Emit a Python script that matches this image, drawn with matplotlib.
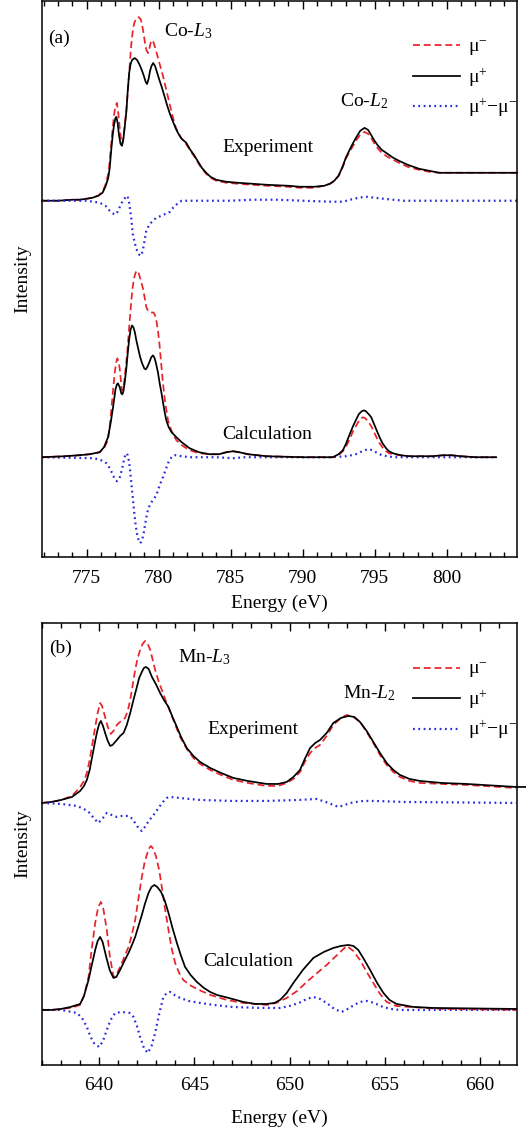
import matplotlib
matplotlib.use("Agg")
import matplotlib.pyplot as plt
from matplotlib.ticker import MultipleLocator

plt.rcParams['font.family'] = ['Liberation Serif', 'DejaVu Serif']
plt.rcParams['mathtext.fontset'] = 'custom'
plt.rcParams['mathtext.rm'] = 'Liberation Serif'
plt.rcParams['mathtext.it'] = 'Liberation Serif:italic'
plt.rcParams['font.size'] = 14

# ---------------- (a) Co L2,3 ----------------
co_exp_minus_E = [771.9, 773.0, 774.0, 774.5, 775.0, 775.4, 775.8, 776.1, 776.3, 776.5, 776.6, 776.7, 776.8, 776.9,
                  777.0, 777.1, 777.2, 777.3, 777.4, 777.47, 777.55, 777.65, 777.76, 777.87, 778.0, 778.1, 778.2,
                  778.3, 778.45, 778.6, 778.75, 778.85, 778.95, 779.05, 779.15, 779.26, 779.36, 779.46, 779.56, 779.66,
                  779.78, 779.88, 780.05, 780.3, 780.5, 780.76, 781.0, 781.2, 781.5, 781.9, 782.2, 782.45, 782.7,
                  783.0, 783.3, 783.6, 784.0, 784.7, 785.5, 786.5, 787.5, 789.0, 789.8, 790.8, 791.5, 791.9, 792.2,
                  792.5, 792.8, 793.0, 793.3, 793.55, 793.75, 794.0, 794.3, 794.55, 794.8, 795.0, 795.25, 795.5,
                  795.9, 796.3, 796.7, 797.3, 798.1, 798.8, 799.5, 801.0, 804.9]
co_exp_minus = [0.00, 0.00, 0.01, 0.01, 0.02, 0.03, 0.05, 0.09, 0.16, 0.27, 0.40, 0.56, 0.72, 0.86, 0.95, 0.98, 0.87,
                0.72, 0.60, 0.57, 0.63, 0.76, 0.92, 1.12, 1.38, 1.57, 1.70, 1.78, 1.83, 1.84, 1.82, 1.76, 1.68, 1.58,
                1.51, 1.48, 1.53, 1.59, 1.61, 1.58, 1.52, 1.47, 1.38, 1.25, 1.13, 0.97, 0.83, 0.73, 0.64, 0.57, 0.50,
                0.45, 0.39, 0.32, 0.27, 0.23, 0.20, 0.18, 0.17, 0.16, 0.15, 0.14, 0.13, 0.13, 0.15, 0.17, 0.20, 0.25,
                0.34, 0.42, 0.50, 0.56, 0.61, 0.66, 0.69, 0.67, 0.62, 0.57, 0.52, 0.48, 0.44, 0.41, 0.38, 0.34, 0.31,
                0.29, 0.28, 0.28, 0.28]

co_exp_plus_E = [771.9, 773.0, 774.0, 774.5, 775.0, 775.4, 775.8, 776.1, 776.3, 776.5, 776.6, 776.7, 776.8, 776.9,
                 777.0, 777.06, 777.15, 777.25, 777.35, 777.45, 777.55, 777.65, 777.76, 777.85, 777.95, 778.05, 778.15,
                 778.33, 778.5, 778.65, 778.8, 778.95, 779.1, 779.19, 779.3, 779.4, 779.5, 779.62, 779.75, 779.9,
                 780.05, 780.19, 780.4, 780.6, 780.76, 781.0, 781.2, 781.34, 781.6, 781.92, 782.2, 782.45, 782.7,
                 783.0, 783.3, 783.6, 784.0, 784.7, 785.5, 786.5, 787.5, 789.0, 789.8, 790.8, 791.5, 791.9, 792.2,
                 792.5, 792.8, 793.0, 793.3, 793.55, 793.75, 794.0, 794.3, 794.55, 794.8, 795.0, 795.25, 795.5,
                 795.9, 796.3, 796.7, 797.3, 798.1, 798.8, 799.5, 801.0, 804.9]
co_exp_plus = [0.00, 0.00, 0.01, 0.01, 0.02, 0.03, 0.05, 0.08, 0.14, 0.23, 0.33, 0.50, 0.65, 0.76, 0.83, 0.84, 0.78,
               0.65, 0.57, 0.55, 0.62, 0.75, 0.90, 1.10, 1.28, 1.37, 1.41, 1.43, 1.41, 1.37, 1.32, 1.26, 1.19, 1.17,
               1.22, 1.30, 1.35, 1.38, 1.35, 1.28, 1.21, 1.15, 1.05, 0.95, 0.88, 0.79, 0.72, 0.68, 0.62, 0.58, 0.51,
               0.46, 0.40, 0.33, 0.28, 0.24, 0.21, 0.19, 0.18, 0.17, 0.16, 0.15, 0.14, 0.14, 0.15, 0.17, 0.20, 0.25,
               0.35, 0.43, 0.52, 0.59, 0.64, 0.70, 0.73, 0.71, 0.65, 0.60, 0.55, 0.51, 0.47, 0.43, 0.40, 0.36, 0.32,
               0.30, 0.28, 0.28, 0.28]

co_exp_diff_E = [771.9, 774.0, 775.0, 775.9, 776.3, 776.6, 776.94, 777.15, 777.4, 777.6, 777.83, 777.95, 778.1, 778.2,
                 778.35, 778.5, 778.65, 778.8, 778.95, 779.14, 779.35, 779.6, 779.84, 780.2, 780.5, 780.8, 781.0,
                 781.3, 781.6, 782.8, 785.0, 786.5, 788.2, 790.0, 792.0, 792.8, 793.3, 793.9, 794.4, 795.0, 795.6,
                 797.0, 804.9]
co_exp_diff = [0.00, 0.00, 0.00, -0.02, -0.05, -0.10, -0.14, -0.11, -0.03, 0.02, 0.05, -0.02, -0.18, -0.33, -0.43,
               -0.50, -0.54, -0.55, -0.46, -0.30, -0.24, -0.20, -0.17, -0.15, -0.13, -0.11, -0.07, -0.03, 0.00, 0.00,
               0.00, 0.01, 0.01, 0.00, -0.01, -0.01, 0.01, 0.03, 0.04, 0.03, 0.02, 0.00, 0.00]

co_calc_minus_E = [771.9, 773.5, 774.5, 775.2, 775.9, 776.2, 776.48, 776.65, 776.83, 776.95, 777.05, 777.13, 777.22,
                   777.3, 777.38, 777.45, 777.52, 777.6, 777.7, 777.83, 777.95, 778.1, 778.2, 778.3, 778.4, 778.5,
                   778.6, 778.7, 778.8, 778.91, 779.05, 779.15, 779.26, 779.4, 779.55, 779.65, 779.75, 779.85, 779.95,
                   780.05, 780.15, 780.3, 780.45, 780.65, 780.9, 781.23, 781.6, 782.15, 782.8, 783.54, 784.2, 784.7,
                   785.16, 785.6, 786.2, 787.5, 790.0, 792.1, 792.5, 792.8, 793.03, 793.3, 793.5, 793.7, 793.9, 794.05,
                   794.2, 794.35, 794.55, 794.77, 795.0, 795.2, 795.35, 795.55, 795.8, 796.0, 796.27, 796.8, 797.4,
                   799.0, 799.8, 800.3, 801.0, 802.0, 803.45]
co_calc_minus = [0.00, 0.01, 0.02, 0.03, 0.05, 0.09, 0.17, 0.38, 0.67, 0.85, 0.95, 0.99, 0.96, 0.88, 0.76, 0.67, 0.67,
                 0.75, 0.88, 1.07, 1.30, 1.57, 1.71, 1.80, 1.85, 1.87, 1.85, 1.80, 1.75, 1.69, 1.58, 1.50, 1.47, 1.45,
                 1.45, 1.45, 1.42, 1.36, 1.27, 1.14, 0.98, 0.74, 0.55, 0.37, 0.26, 0.17, 0.12, 0.07, 0.04, 0.03, 0.03,
                 0.05, 0.06, 0.05, 0.03, 0.01, 0.00, 0.00, 0.02, 0.06, 0.11, 0.19, 0.26, 0.31, 0.36, 0.39, 0.40, 0.39,
                 0.36, 0.31, 0.24, 0.18, 0.14, 0.10, 0.06, 0.04, 0.03, 0.02, 0.01, 0.01, 0.02, 0.02, 0.01, 0.00, 0.00]

co_calc_plus_E = [771.9, 773.5, 774.5, 775.2, 775.9, 776.2, 776.48, 776.65, 776.83, 777.0, 777.1, 777.17, 777.3, 777.4,
                  777.48, 777.55, 777.65, 777.76, 777.85, 777.95, 778.05, 778.15, 778.25, 778.35, 778.45, 778.56,
                  778.7, 778.85, 779.0, 779.1, 779.2, 779.35, 779.48, 779.6, 779.7, 779.8, 779.95, 780.07, 780.2,
                  780.3, 780.42, 780.53, 780.7, 780.9, 781.23, 781.6, 782.15, 782.8, 783.54, 784.2, 784.7, 785.16,
                  785.6, 786.2, 787.5, 790.0, 792.1, 792.5, 792.8, 793.03, 793.3, 793.5, 793.7, 793.9, 794.1, 794.26,
                  794.4, 794.6, 794.77, 795.0, 795.2, 795.35, 795.55, 795.8, 796.0, 796.27, 796.8, 797.4, 799.0,
                  799.8, 800.3, 801.0, 802.0, 803.45]
co_calc_plus = [0.00, 0.01, 0.02, 0.03, 0.05, 0.10, 0.20, 0.33, 0.50, 0.68, 0.73, 0.74, 0.70, 0.64, 0.63, 0.66, 0.76,
                0.90, 1.04, 1.18, 1.28, 1.32, 1.30, 1.25, 1.17, 1.10, 1.01, 0.94, 0.89, 0.88, 0.90, 0.95, 1.00, 1.02,
                1.00, 0.95, 0.85, 0.74, 0.64, 0.55, 0.45, 0.37, 0.30, 0.25, 0.20, 0.15, 0.09, 0.05, 0.03, 0.03, 0.05,
                0.06, 0.05, 0.03, 0.01, 0.00, 0.00, 0.03, 0.07, 0.14, 0.24, 0.31, 0.37, 0.43, 0.46, 0.47, 0.46, 0.43,
                0.40, 0.32, 0.25, 0.20, 0.14, 0.09, 0.06, 0.04, 0.02, 0.01, 0.01, 0.02, 0.02, 0.01, 0.00, 0.00]

co_calc_diff_E = [771.9, 775.5, 776.0, 776.37, 776.6, 776.8, 776.95, 777.1, 777.2, 777.3, 777.4, 777.5, 777.6, 777.7,
                  777.76, 777.85, 777.95, 778.02, 778.1, 778.2, 778.3, 778.4, 778.5, 778.6, 778.68, 778.78, 778.88,
                  778.96, 779.05, 779.15, 779.25, 779.38, 779.55, 779.7, 779.84, 779.95, 780.1, 780.3, 780.5, 780.65,
                  780.76, 780.9, 781.05, 781.2, 781.6, 782.15, 784.0, 785.16, 786.0, 792.1, 793.0, 793.4, 793.7, 794.0,
                  794.3, 794.6, 794.85, 795.1, 795.5, 796.3, 803.45]
co_calc_diff = [0.00, -0.01, -0.03, -0.06, -0.11, -0.17, -0.22, -0.24, -0.23, -0.20, -0.15, -0.09, -0.02, 0.03, 0.04,
                0.02, -0.05, -0.14, -0.26, -0.40, -0.55, -0.68, -0.77, -0.83, -0.86, -0.85, -0.81, -0.76, -0.68, -0.60,
                -0.53, -0.48, -0.44, -0.41, -0.38, -0.33, -0.27, -0.20, -0.12, -0.06, -0.03, 0.00, 0.02, 0.02, 0.01,
                0.00, 0.00, -0.01, 0.00, 0.00, 0.01, 0.02, 0.03, 0.05, 0.07, 0.08, 0.07, 0.05, 0.02, 0.00, 0.00]

# ---------------- (b) Mn L2,3 ----------------
mn_exp_minus_E = [637.0, 637.5, 638.0, 638.57, 639.0, 639.2, 639.35, 639.5, 639.65, 639.79, 639.92, 640.05, 640.15,
                  640.31, 640.45, 640.61, 640.75, 640.93, 641.15, 641.36, 641.5, 641.63, 641.76, 641.89, 642.02,
                  642.15, 642.28, 642.41, 642.55, 642.68, 642.8, 642.94, 643.1, 643.29, 643.5, 643.73, 644.0, 644.25,
                  644.6, 644.95, 645.3, 645.83, 646.4, 647.05, 647.8, 648.8, 649.4, 649.85, 650.2, 650.55, 650.8,
                  651.08, 651.35, 651.6, 651.95, 652.3, 652.7, 653.0, 653.35, 653.7, 654.05, 654.4, 654.75, 655.1,
                  655.45, 655.8, 656.3, 656.85, 658.0, 659.3, 661.9]
mn_exp_minus = [0.00, 0.01, 0.03, 0.07, 0.16, 0.22, 0.30, 0.43, 0.60, 0.76, 0.90, 1.00, 0.97, 0.86, 0.76, 0.69, 0.72,
                0.78, 0.82, 0.85, 0.92, 1.03, 1.18, 1.33, 1.45, 1.53, 1.59, 1.62, 1.59, 1.53, 1.44, 1.33, 1.23, 1.13,
                1.02, 0.91, 0.78, 0.66, 0.54, 0.45, 0.39, 0.33, 0.28, 0.23, 0.20, 0.17, 0.17, 0.20, 0.24, 0.31, 0.41,
                0.50, 0.55, 0.58, 0.67, 0.78, 0.85, 0.88, 0.86, 0.81, 0.71, 0.60, 0.48, 0.38, 0.31, 0.26, 0.22, 0.20,
                0.19, 0.18, 0.15]

mn_exp_plus_E = [637.0, 637.5, 638.0, 638.57, 639.0, 639.2, 639.35, 639.5, 639.6, 639.7, 639.8, 639.9, 640.0, 640.09,
                 640.2, 640.31, 640.45, 640.58, 640.7, 640.93, 641.1, 641.28, 641.45, 641.63, 641.8, 641.98, 642.1,
                 642.24, 642.35, 642.45, 642.6, 642.77, 643.0, 643.2, 643.4, 643.64, 643.85, 644.08, 644.3, 644.6,
                 644.95, 645.3, 645.83, 646.4, 647.05, 647.8, 648.8, 649.4, 649.85, 650.2, 650.55, 650.8, 651.08,
                 651.35, 651.6, 651.95, 652.3, 652.7, 653.09, 653.4, 653.7, 654.05, 654.4, 654.75, 655.1, 655.45,
                 655.8, 656.3, 656.85, 658.0, 659.3, 661.9, 662.4]
mn_exp_plus = [0.00, 0.01, 0.03, 0.06, 0.12, 0.17, 0.23, 0.33, 0.43, 0.53, 0.63, 0.72, 0.79, 0.82, 0.77, 0.70, 0.62,
               0.57, 0.58, 0.63, 0.67, 0.70, 0.78, 0.90, 1.03, 1.16, 1.25, 1.31, 1.35, 1.36, 1.34, 1.26, 1.18, 1.10,
               1.03, 0.96, 0.86, 0.76, 0.66, 0.55, 0.47, 0.41, 0.35, 0.30, 0.25, 0.22, 0.19, 0.19, 0.21, 0.26, 0.33,
               0.44, 0.55, 0.60, 0.63, 0.70, 0.80, 0.85, 0.87, 0.86, 0.81, 0.72, 0.61, 0.50, 0.40, 0.33, 0.28, 0.24,
               0.22, 0.20, 0.19, 0.16, 0.16]

mn_exp_diff_E = [637.0, 638.0, 638.83, 639.2, 639.5, 639.75, 639.96, 640.2, 640.4, 640.65, 640.93, 641.2, 641.54,
                 641.75, 641.95, 642.1, 642.24, 642.4, 642.6, 642.94, 643.15, 643.35, 643.55, 643.73, 644.2, 645.3,
                 647.0, 648.8, 650.5, 651.42, 651.9, 652.3, 652.56, 652.9, 653.2, 653.5, 653.87, 654.5, 656.0, 661.9]
mn_exp_diff = [0.00, -0.01, -0.03, -0.06, -0.10, -0.16, -0.20, -0.15, -0.10, -0.12, -0.14, -0.13, -0.13, -0.16, -0.22,
               -0.26, -0.28, -0.24, -0.18, -0.10, -0.04, 0.01, 0.05, 0.06, 0.05, 0.03, 0.02, 0.02, 0.03, 0.04, 0.01,
               -0.02, -0.04, -0.02, 0.00, 0.01, 0.02, 0.02, 0.01, 0.00]

mn_calc_minus_E = [637.0, 637.5, 638.0, 638.5, 639.0, 639.2, 639.44, 639.6, 639.79, 639.95, 640.09, 640.22, 640.4,
                   640.55, 640.75, 640.9, 641.1, 641.3, 641.54, 641.7, 641.89, 642.05, 642.24, 642.38, 642.5, 642.6,
                   642.71, 642.85, 642.99, 643.15, 643.29, 643.45, 643.64, 643.8, 643.99, 644.2, 644.42, 644.75,
                   645.13, 645.83, 646.7, 647.57, 648.8, 649.3, 649.85, 650.4, 650.9, 651.45, 651.95, 652.5, 653.0,
                   653.35, 653.7, 654.05, 654.4, 654.75, 655.1, 655.6, 656.3, 658.0, 661.9]
mn_calc_minus = [0.00, 0.00, 0.01, 0.02, 0.05, 0.14, 0.33, 0.60, 0.87, 1.03, 1.08, 1.01, 0.80, 0.55, 0.33, 0.35, 0.43,
                 0.52, 0.63, 0.74, 0.90, 1.10, 1.33, 1.47, 1.55, 1.61, 1.64, 1.61, 1.53, 1.40, 1.23, 1.02, 0.80, 0.62,
                 0.47, 0.37, 0.30, 0.25, 0.21, 0.15, 0.10, 0.07, 0.05, 0.07, 0.12, 0.19, 0.28, 0.37, 0.45, 0.55, 0.64,
                 0.59, 0.50, 0.38, 0.27, 0.16, 0.08, 0.04, 0.03, 0.01, 0.00]

mn_calc_plus_E = [637.0, 637.5, 638.0, 638.5, 639.0, 639.2, 639.44, 639.6, 639.79, 639.92, 640.05, 640.18, 640.37,
                  640.55, 640.75, 640.9, 641.1, 641.3, 641.54, 641.7, 641.89, 642.05, 642.24, 642.4, 642.59, 642.75,
                  642.9, 643.05, 643.25, 643.45, 643.64, 643.85, 644.08, 644.3, 644.51, 644.8, 645.13, 645.5, 645.83,
                  646.18, 646.8, 647.57, 648.2, 648.8, 649.2, 649.5, 649.85, 650.2, 650.7, 651.25, 651.8, 652.3,
                  652.7, 653.09, 653.35, 653.61, 653.9, 654.23, 654.6, 654.93, 655.25, 655.62, 656.5, 657.55, 661.9]
mn_calc_plus = [0.00, 0.00, 0.01, 0.03, 0.06, 0.14, 0.30, 0.44, 0.60, 0.69, 0.73, 0.68, 0.53, 0.40, 0.32, 0.33, 0.40,
                0.48, 0.57, 0.64, 0.73, 0.83, 0.95, 1.06, 1.17, 1.23, 1.25, 1.23, 1.18, 1.09, 0.97, 0.82, 0.67, 0.54,
                0.43, 0.35, 0.28, 0.22, 0.18, 0.15, 0.12, 0.08, 0.06, 0.06, 0.07, 0.10, 0.17, 0.27, 0.40, 0.52, 0.58,
                0.62, 0.64, 0.65, 0.64, 0.60, 0.51, 0.40, 0.27, 0.17, 0.10, 0.06, 0.03, 0.02, 0.01]

mn_calc_diff_E = [637.0, 638.0, 638.83, 639.1, 639.35, 639.55, 639.75, 640.0, 640.2, 640.4, 640.6, 640.84, 641.2,
                  641.6, 641.8, 641.98, 642.15, 642.35, 642.55, 642.75, 642.94, 643.15, 643.37, 643.55, 643.73,
                  643.95, 644.25, 644.7, 645.3, 646.0, 647.0, 648.5, 649.5, 650.0, 650.5, 650.9, 651.25, 651.6,
                  651.95, 652.35, 652.74, 653.05, 653.4, 653.7, 654.05, 654.45, 654.9, 655.3, 655.8, 661.9]
mn_calc_diff = [0.00, 0.00, -0.03, -0.08, -0.17, -0.27, -0.34, -0.37, -0.31, -0.20, -0.10, -0.03, -0.02, -0.03, -0.07,
                -0.16, -0.27, -0.38, -0.43, -0.36, -0.23, -0.04, 0.13, 0.17, 0.18, 0.15, 0.12, 0.09, 0.07, 0.05, 0.03,
                0.02, 0.02, 0.04, 0.07, 0.11, 0.13, 0.11, 0.07, 0.01, -0.02, 0.01, 0.05, 0.08, 0.09, 0.07, 0.03, 0.01,
                0.00, 0.00]

RED = '#e8232a'
BLUE = '#2a2ae0'
DASH = dict(color=RED, lw=1.25, ls=(0, (4.0, 2.2)))
SOLID = dict(color='black', lw=1.25)
DOT = dict(color=BLUE, lw=1.6, ls=(0, (0.8, 1.6)))


def shift(vals, off):
    return [v + off for v in vals]


def draw(ax, exp, calc, exp_off, calc_off):
    (em_E, em), (ep_E, ep), (ed_E, ed) = exp
    (cm_E, cm), (cp_E, cp), (cd_E, cd) = calc
    ax.plot(em_E, shift(em, exp_off), label=r'μ$^{-}$', **DASH)
    ax.plot(ep_E, shift(ep, exp_off), label=r'μ$^{+}$', clip_on=False, **SOLID)
    ax.plot(ed_E, shift(ed, exp_off), label=r'μ$^{+}$−μ$^{-}$', **DOT)
    ax.plot(cd_E, shift(cd, calc_off), **DOT)
    ax.plot(cm_E, shift(cm, calc_off), **DASH)
    ax.plot(cp_E, shift(cp, calc_off), **SOLID)


def style(ax, labelpad, leg_y):
    ax.xaxis.set_major_locator(MultipleLocator(5))
    ax.xaxis.set_minor_locator(MultipleLocator(1))
    ax.tick_params(axis='x', which='both', direction='in', top=True, labelsize=14, pad=9)
    ax.tick_params(axis='x', which='major', length=6, width=1)
    ax.tick_params(axis='x', which='minor', length=3.5, width=1)
    ax.set_yticks([])
    for s in ax.spines.values():
        s.set_linewidth(1.1)
    ax.set_xlabel('Energy (eV)', fontsize=14, labelpad=labelpad)
    ax.set_ylabel('Intensity', fontsize=14, labelpad=8)
    ax.legend(loc='upper right', frameon=False, handlelength=2.45, handletextpad=0.4,
              labelspacing=0.4, borderaxespad=0.0, fontsize=14, bbox_to_anchor=(1.017, leg_y))


fig = plt.figure(figsize=(5.26, 11.31), dpi=100)
ax1 = fig.add_axes([0.080, 0.5075, 0.903, 0.4915])
ax2 = fig.add_axes([0.080, 0.0584, 0.903, 0.3908])

draw(ax1,
     [(co_exp_minus_E, co_exp_minus), (co_exp_plus_E, co_exp_plus), (co_exp_diff_E, co_exp_diff)],
     [(co_calc_minus_E, co_calc_minus), (co_calc_plus_E, co_calc_plus), (co_calc_diff_E, co_calc_diff)],
     3.57, 1.00)
ax1.set_xlim(771.9, 804.9)
ax1.set_ylim(0, 5.57)
style(ax1, 6, 0.947)
ax1.text(773.1, 5.20, '(a)', ha='center', va='center')
ax1.text(780.4, 5.27, 'Co-$L_3$', va='center')
ax1.text(792.6, 4.57, 'Co-$L_2$', va='center')
ax1.text(784.4, 4.10, 'Experiment', va='center')
ax1.text(784.4, 1.23, 'Calculation', va='center')

draw(ax2,
     [(mn_exp_minus_E, mn_exp_minus), (mn_exp_plus_E, mn_exp_plus), (mn_exp_diff_E, mn_exp_diff)],
     [(mn_calc_minus_E, mn_calc_minus), (mn_calc_plus_E, mn_calc_plus), (mn_calc_diff_E, mn_calc_diff)],
     2.62, 0.55)
ax2.set_xlim(637.0, 661.95)
ax2.set_ylim(0, 4.42)
style(ax2, 11, 0.932)
ax2.text(637.95, 4.17, '(b)', ha='center', va='center')
ax2.text(644.15, 4.08, 'Mn-$L_3$', va='center')
ax2.text(652.8, 3.72, 'Mn-$L_2$', va='center')
ax2.text(645.7, 3.35, 'Experiment', va='center')
ax2.text(645.45, 1.03, 'Calculation', va='center')

fig.savefig('out.png', dpi=100)
